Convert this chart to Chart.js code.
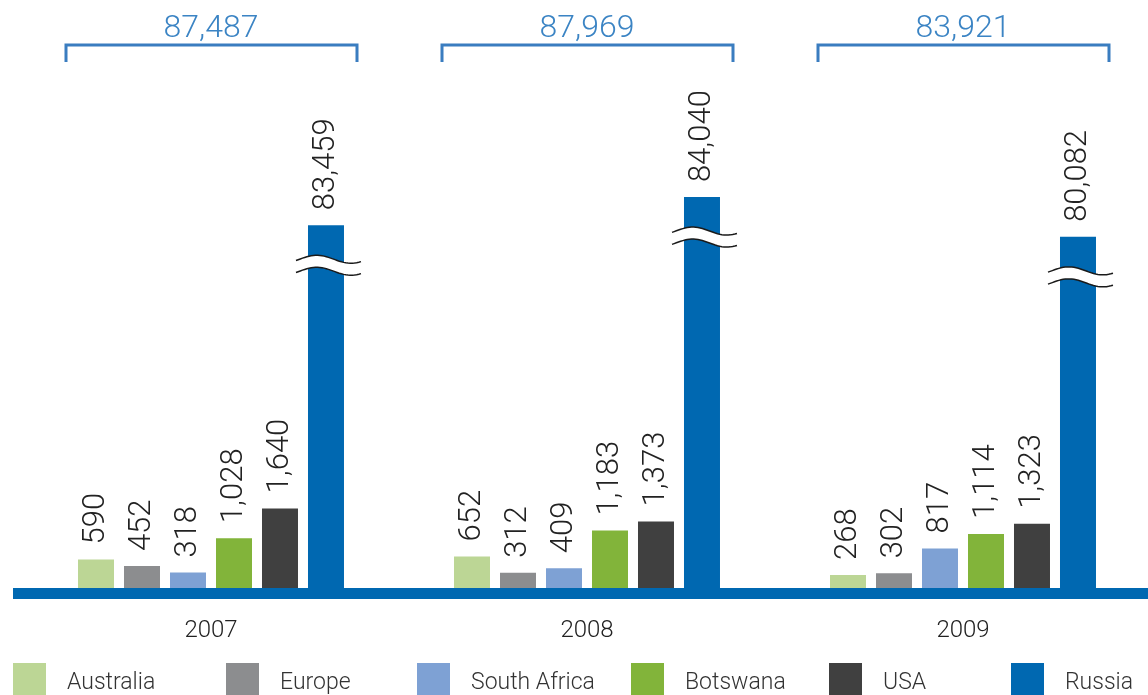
<!DOCTYPE html>
<html>
<head>
<meta charset="utf-8">
<script src="https://cdn.jsdelivr.net/npm/chart.js@4"></script>
<style>
  html, body { margin: 0; padding: 0; background: #fff; overflow: hidden; width: 1148px; height: 695px; }
  canvas { display: block; }
</style>
</head>
<body>
<canvas id="produccionChart" width="1151" height="695"></canvas>
<script>
// datos por año
var years = ['2007', '2008', '2009'];
var australia = [590, 652, 268];
var europe = [452, 312, 302];
var southAfrica = [318, 409, 817];
var botswana = [1028, 1183, 1114];
var usa = [1640, 1373, 1323];
var russia = [83459, 84040, 80082];
// Russia va cortada (eje roto): altura dibujada en la escala truncada
var russiaCut = [7480, 8060, 7240];
var totals = [87487, 87969, 83921];

var seriesNames = ['Australia', 'Europe', 'South Africa', 'Botswana', 'USA', 'Russia'];
var seriesColors = ['#bcd695', '#8c8d8f', '#7ea1d4', '#82b43a', '#404040', '#0068b1'];
var legendX = [13, 226, 417, 631, 829, 1011];

var FONT = 'Roboto, "Liberation Sans", sans-serif';

function fmt(n) {
    return n.toLocaleString('en-US');
}

// linea gruesa del eje
var axisLinePlugin = {
    id: 'axisLine',
    afterDatasetsDraw: function(chart) {
        var ctx = chart.ctx;
        var y0 = chart.scales.y.getPixelForValue(0);
        ctx.save();
        ctx.fillStyle = '#0068b1';
        ctx.fillRect(13, y0, chart.width - 13, 11);
        ctx.restore();
    }
};

// simbolo de corte en las barras de Russia
var breakPlugin = {
    id: 'breakMark',
    afterDatasetsDraw: function(chart) {
        var ctx = chart.ctx;
        var meta = chart.getDatasetMeta(5);
        meta.data.forEach(function(bar) {
            var cx = bar.x;
            var yb = bar.y + 34;
            var x0 = cx - 30, x1 = cx + 35;
            var gap = 12;
            function wave(offset, reverse) {
                var steps = 30;
                for (var s = 0; s <= steps; s++) {
                    var k = reverse ? steps - s : s;
                    var t = k / steps;
                    var x = x0 + (x1 - x0) * t;
                    var y = yb + offset - 4 * Math.sin(2 * Math.PI * (t * 0.95 - 0.1) + 0.3);
                    if (s === 0 && !reverse) ctx.moveTo(x, y); else ctx.lineTo(x, y);
                }
            }
            ctx.save();
            ctx.beginPath();
            wave(0, false);
            wave(gap, true);
            ctx.closePath();
            ctx.fillStyle = '#fff';
            ctx.fill();
            ctx.strokeStyle = '#1a1a1a';
            ctx.lineWidth = 1.5;
            ctx.beginPath();
            wave(0, false);
            ctx.stroke();
            ctx.beginPath();
            wave(gap, false);
            ctx.stroke();
            ctx.restore();
        });
    }
};

// etiquetas de valores giradas
var valueLabelPlugin = {
    id: 'valueLabels',
    afterDatasetsDraw: function(chart) {
        var ctx = chart.ctx;
        chart.data.datasets.forEach(function(ds, i) {
            var meta = chart.getDatasetMeta(i);
            meta.data.forEach(function(bar, j) {
                var value = ds.realValues ? ds.realValues[j] : ds.data[j];
                ctx.save();
                ctx.translate(bar.x, bar.y - 15);
                ctx.rotate(-Math.PI / 2);
                ctx.font = '300 31px ' + FONT;
                ctx.fillStyle = '#222';
                ctx.textAlign = 'left';
                ctx.textBaseline = 'middle';
                ctx.fillText(fmt(value), 0, 0);
                ctx.restore();
            });
        });
    }
};

// llaves con el total arriba de cada año
var totalsPlugin = {
    id: 'totals',
    afterDraw: function(chart) {
        var ctx = chart.ctx;
        var xs = chart.scales.x;
        totals.forEach(function(t, i) {
            var cx = xs.getPixelForValue(i);
            ctx.save();
            ctx.strokeStyle = '#3a7dc0';
            ctx.lineWidth = 3;
            ctx.beginPath();
            ctx.moveTo(cx - 145, 62);
            ctx.lineTo(cx - 145, 45);
            ctx.lineTo(cx + 146, 45);
            ctx.lineTo(cx + 146, 62);
            ctx.stroke();
            ctx.font = '300 32px ' + FONT;
            ctx.fillStyle = '#3b84c4';
            ctx.textAlign = 'center';
            ctx.textBaseline = 'alphabetic';
            ctx.fillText(fmt(t), cx, 37);
            ctx.restore();
        });
    }
};

// leyenda abajo
var legendPlugin = {
    id: 'bottomLegend',
    afterDraw: function(chart) {
        var ctx = chart.ctx;
        chart.data.datasets.forEach(function(ds, i) {
            var x = legendX[i];
            ctx.save();
            ctx.fillStyle = ds.backgroundColor;
            ctx.fillRect(x, 663, 33, 32);
            ctx.font = '300 23px ' + FONT;
            ctx.fillStyle = '#333';
            ctx.textAlign = 'left';
            ctx.textBaseline = 'middle';
            ctx.fillText(ds.label, x + 54, 683);
            ctx.restore();
        });
    }
};

var seriesData = [australia, europe, southAfrica, botswana, usa, russiaCut];

var datasets = seriesNames.map(function(name, i) {
    var ds = {
        label: name,
        data: seriesData[i],
        backgroundColor: seriesColors[i],
        borderWidth: 0,
        categoryPercentage: 0.734,
        barPercentage: 0.7826
    };
    if (name === 'Russia') ds.realValues = russia;
    return ds;
});

var ctx = document.getElementById('produccionChart').getContext('2d');
var produccionChart = new Chart(ctx, {
    type: 'bar',
    data: {
        labels: years,
        datasets: datasets
    },
    options: {
        responsive: false,
        animation: false,
        layout: {
            padding: { top: 6, left: 23, right: 0, bottom: 0 }
        },
        plugins: {
            legend: { display: false },
            tooltip: { enabled: false }
        },
        scales: {
            x: {
                grid: { display: false },
                border: { display: false },
                ticks: {
                    color: '#222',
                    padding: 21,
                    font: { family: FONT, size: 24, weight: '300' }
                },
                afterFit: function(scale) {
                    scale.height = 107;
                }
            },
            y: {
                display: false,
                min: 0,
                max: 12000
            }
        }
    },
    plugins: [axisLinePlugin, breakPlugin, valueLabelPlugin, totalsPlugin, legendPlugin]
});
</script>
</body>
</html>
